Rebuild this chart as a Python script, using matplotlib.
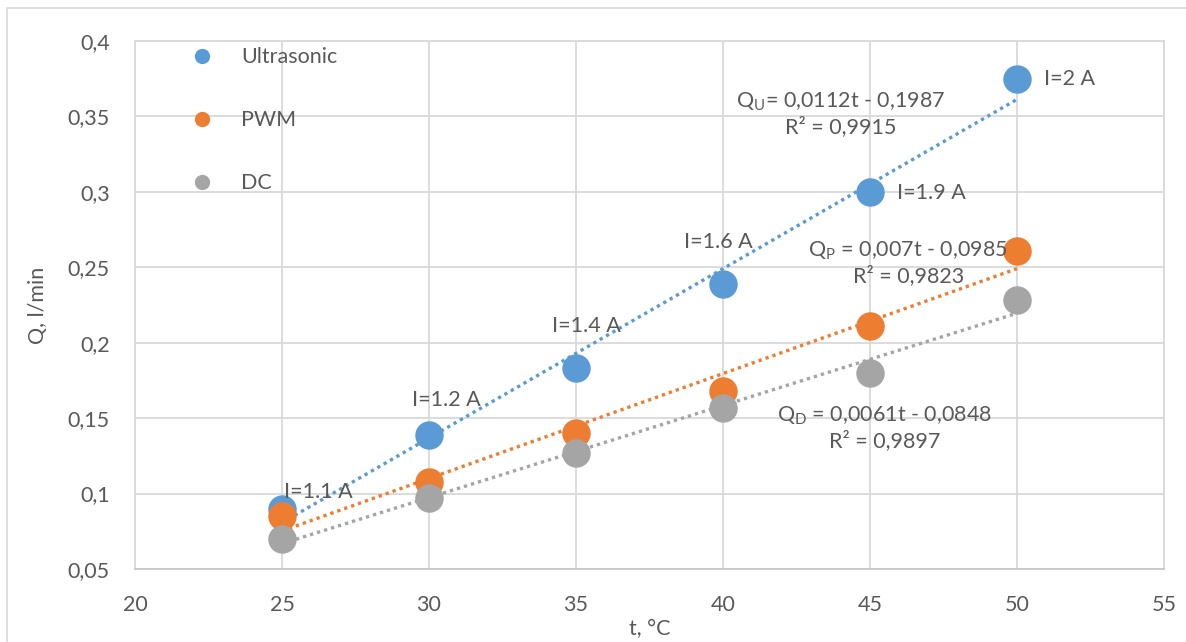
import matplotlib.pyplot as plt
import numpy as np
from matplotlib.lines import Line2D
from matplotlib.patches import Rectangle
from matplotlib.ticker import FuncFormatter

# Flow rate vs temperature for three heating modes
t = [25, 30, 35, 40, 45, 50]
q_ultrasonic = [0.090, 0.139, 0.183, 0.239, 0.300, 0.375]
q_pwm = [0.085, 0.108, 0.140, 0.168, 0.211, 0.261]
q_dc = [0.070, 0.097, 0.127, 0.157, 0.180, 0.228]

series = ['Ultrasonic', 'PWM', 'DC']
colors = ['#5B9BD5', '#ED7D31', '#A5A5A5']

current_labels = ['I=1.1 A', 'I=1.2 A', 'I=1.4 A', 'I=1.6 A', 'I=1.9 A', 'I=2 A']
current_pos = [(26.25, 0.101), (30.6, 0.162), (35.35, 0.211), (39.85, 0.267),
               (47.1, 0.299), (51.8, 0.375)]

equations = ['Q$_\\mathregular{U}$= 0,0112t - 0,1987\nR² = 0,9915',
             'Q$_\\mathregular{P}$ = 0,007t - 0,0985\nR² = 0,9823',
             'Q$_\\mathregular{D}$ = 0,0061t - 0,0848\nR² = 0,9897']
equation_pos = [(44.0, 0.352), (46.3, 0.253), (45.5, 0.1435)]

text_color = '#595959'
plt.rcParams['font.family'] = ['Lato', 'DejaVu Sans']

fig = plt.figure(figsize=(11.86, 6.42), dpi=100)
ax = fig.add_axes([135 / 1186, 1 - 569 / 642, 1029 / 1186, 528 / 642])

# outer chart border
fig.patches.append(Rectangle((7 / 1186, -0.05), 1.1, 1 - 8 / 642 + 0.05,
                             transform=fig.transFigure, fill=False,
                             edgecolor='#D9D9D9', lw=1.2))

data = [q_ultrasonic, q_pwm, q_dc]
for i in range(len(series)):
    k, b = np.polyfit(t, data[i], 1)
    tt = np.array([t[0], t[-1]])
    ax.plot(tt, k * tt + b, linestyle=(0, (1, 1.2)), lw=2.4, color=colors[i], zorder=2)
    ax.scatter(t, data[i], s=420, color=colors[i], zorder=3, linewidths=0)

for lab, (x, y) in zip(current_labels, current_pos):
    ax.text(x, y, lab, fontsize=15.5, color=text_color, ha='center', va='center', zorder=4)

for eq, (x, y) in zip(equations, equation_pos):
    ax.text(x, y, eq, fontsize=15.5, color=text_color, ha='center', va='center',
            linespacing=1.2, zorder=4)

handles = [Line2D([], [], marker='o', ls='', markersize=11, color=c, markeredgewidth=0)
           for c in colors]
ax.legend(handles, series, loc='upper left', bbox_to_anchor=(0.036, 1.025),
          frameon=False, fontsize=15.5, labelspacing=2.0, handlelength=1,
          handletextpad=1.3, labelcolor=text_color)

ax.set_xlim(20, 55)
ax.set_ylim(0.05, 0.4)
ax.set_xticks(np.arange(20, 56, 5))
ax.set_yticks(np.arange(0.05, 0.401, 0.05))
ax.yaxis.set_major_formatter(FuncFormatter(lambda v, p: ('%g' % round(v, 3)).replace('.', ',')))
ax.grid(True, color='#D9D9D9', lw=1.3)
ax.set_axisbelow(True)
for s in ax.spines.values():
    s.set_color('#D9D9D9')
    s.set_linewidth(1.3)
ax.spines['bottom'].set_color('#C8C8C8')
ax.tick_params(length=0, labelsize=15.5, labelcolor=text_color)
ax.tick_params(axis='x', pad=19)
ax.tick_params(axis='y', pad=18)
ax.set_xlabel('t, °C', fontsize=15.5, color=text_color, labelpad=3)
ax.set_ylabel('Q, l/min', fontsize=15.5, color=text_color, labelpad=14)

fig.savefig('out.png', dpi=100)
